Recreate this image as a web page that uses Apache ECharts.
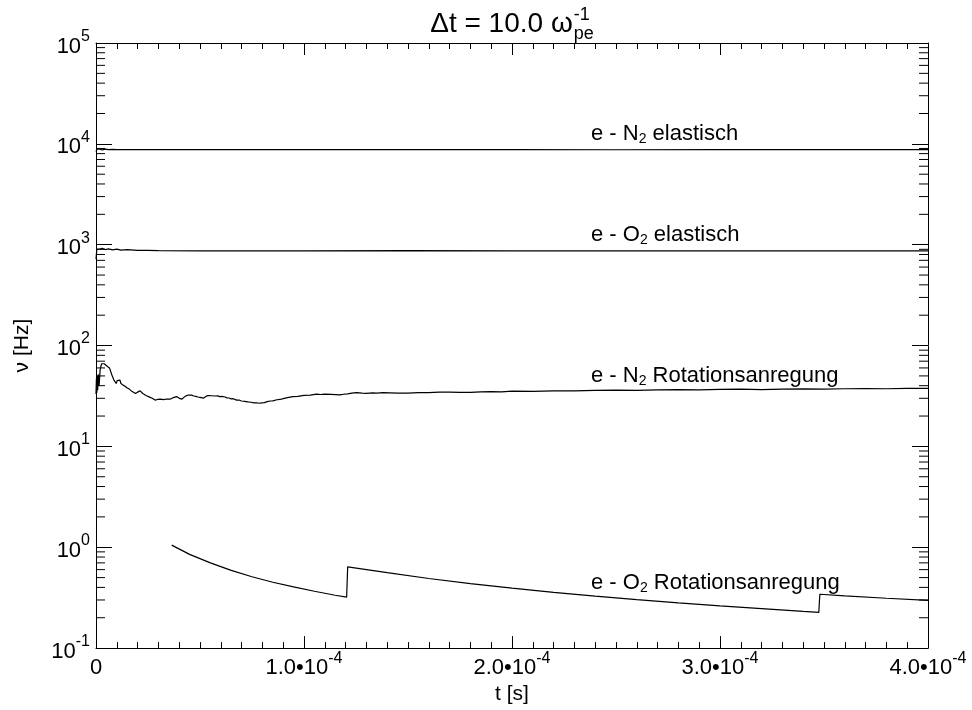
<!DOCTYPE html>
<html><head><meta charset="utf-8">
<script src="https://cdn.jsdelivr.net/npm/echarts@6/dist/echarts.min.js"></script>
<style>html,body{margin:0;padding:0;background:#fff}#c{width:972px;height:710px}</style>
</head><body><div id="c"></div>
<script>
const FONT = '"Liberation Sans", Arial, Helvetica, sans-serif';

// x in units of 1e-4 s
const xTickValues = [0, 1, 2, 3, 4];
const xTickExponent = '-4';
const yDecades = [-1, 0, 1, 2, 3, 4, 5];
const yMinorMultipliers = [2, 3, 4, 5, 6, 7, 8, 9];

const seriesNames = ['e - N2 elastisch', 'e - O2 elastisch', 'e - N2 Rotationsanregung', 'e - O2 Rotationsanregung'];

const tN2el = [0, 0.005, 0.012, 0.02, 0.03, 0.045, 0.06, 0.08, 0.1, 0.15, 0.2, 0.3, 0.5, 1.0, 1.5, 2.0, 2.5, 3.0, 3.5, 4.0];
const vN2el = [8400, 8900, 8600, 8850, 8700, 8850, 8750, 8800, 8760, 8790, 8750, 8770, 8750, 8760, 8750, 8750, 8740, 8750, 8750, 8750];

const tO2el = [0, 0.004, 0.01, 0.02, 0.03, 0.045, 0.06, 0.08, 0.1, 0.12, 0.15, 0.2, 0.25, 0.3, 0.5, 1.0, 1.5, 2.0, 2.5, 3.0, 3.5, 4.0];
const vO2el = [720, 900, 930, 910, 920, 895, 910, 890, 905, 885, 895, 878, 880, 872, 868, 870, 872, 870, 871, 870, 870, 870];

const tN2rot = [0, 0.002, 0.004, 0.006, 0.008, 0.011, 0.015, 0.02, 0.027, 0.034, 0.04, 0.047, 0.055, 0.065, 0.075, 0.085,
  0.097, 0.102, 0.106, 0.11, 0.115, 0.12, 0.125, 0.13, 0.135, 0.14, 0.145, 0.15, 0.155, 0.16, 0.165, 0.17, 0.175, 0.18, 0.185, 0.19,
  0.196, 0.2, 0.205, 0.212, 0.218, 0.225, 0.232, 0.24, 0.248, 0.255, 0.262, 0.27, 0.277, 0.284, 0.29, 0.296, 0.302, 0.31, 0.318,
  0.325, 0.333, 0.34, 0.348, 0.356, 0.364, 0.372, 0.38, 0.388, 0.395, 0.402, 0.412, 0.42, 0.43, 0.437, 0.444, 0.452, 0.46, 0.47,
  0.48, 0.49, 0.5, 0.508, 0.516, 0.523, 0.53, 0.54, 0.548, 0.556, 0.565, 0.575, 0.585, 0.595, 0.605, 0.611, 0.62, 0.63, 0.64, 0.65,
  0.66, 0.676, 0.69, 0.7, 0.715, 0.73, 0.745, 0.76, 0.772, 0.785, 0.797, 0.81, 0.823, 0.837, 0.85, 0.87, 0.885, 0.9, 0.92, 0.947,
  0.97, 1.0, 1.03, 1.061, 1.08, 1.1, 1.13, 1.173, 1.19, 1.21, 1.23, 1.253, 1.28, 1.3, 1.33, 1.35, 1.38, 1.413, 1.45, 1.5, 1.55,
  1.6, 1.65, 1.7, 1.75, 1.8, 1.85, 1.9, 1.95, 2.0, 2.1, 2.2, 2.3, 2.4, 2.5, 2.6, 2.7, 2.8, 2.9, 3.0, 3.1, 3.2, 3.3, 3.4, 3.5,
  3.6, 3.7, 3.8, 3.9, 4.0];
const vN2rot = [33, 47, 34, 50, 36, 52, 40, 58, 66, 69, 66, 67, 62, 60, 52, 46,
  42, 45, 47, 44, 45.5, 42, 43, 40.5, 41.5, 39.5, 40, 38, 38.8, 37, 37.5, 35.5, 36, 34.5, 34.8, 33.5,
  32.3, 34.5, 36, 35.5, 34, 33.5, 32.2, 32, 30.8, 31, 29.8, 30, 29.2, 28.8, 29.6, 29.2, 30, 29.4, 29.8,
  29.1, 29.9, 29.5, 30, 29.4, 30.2, 30.5, 31.4, 31.2, 30.4, 29.9, 29.4, 30.6, 31.5, 31.8, 32.3, 31.9, 32.2, 31.6,
  31.3, 30.9, 30.6, 30.8, 30.1, 30.9, 31.5, 31.9, 32.3, 31.8, 32, 31.6, 31.7, 31.2, 31.3, 30.7, 30.9, 30.3, 30.2, 29.6,
  29.7, 28.8, 28.7, 28.2, 28, 27.6, 27.4, 27, 27.1, 26.8, 27, 27.2, 27.8, 28.2, 28.3, 29, 29.2, 29.8, 30.4, 31.2,
  31.3, 32, 32.3, 33, 32.7, 33, 32.8, 32.4, 32.9, 33.2, 33.8, 34.1, 33.7, 33.6, 33.9, 33.8, 34.1, 34, 33.7, 33.8, 34.1,
  34.2, 34.5, 34.6, 34.3, 34.4, 34.8, 35, 34.8, 35.3, 35.2, 35.6, 35.5, 35.9, 36.2, 36, 36.4, 36.6, 36.3, 36.7, 36.9, 36.6, 37, 37.2, 37,
  37.3, 37.5, 37.3, 37.6, 37.7];

const tO2rot = [0.364, 0.45, 0.55, 0.65, 0.75, 0.85, 0.95, 1.05, 1.15, 1.205, 1.21, 1.4, 1.6, 1.8, 2.0, 2.2, 2.4, 2.6, 2.8, 3.0, 3.2, 3.4, 3.475, 3.48, 3.6, 3.8, 4.0];
const vO2rot = [1.05, 0.85, 0.70, 0.59, 0.51, 0.45, 0.405, 0.366, 0.334, 0.32, 0.64, 0.56, 0.49, 0.436, 0.393, 0.357, 0.327, 0.302, 0.281, 0.262, 0.246, 0.231, 0.226, 0.342, 0.330, 0.312, 0.297];

function pairs(t, v) { return t.map((x, i) => [x, v[i]]); }

const yMinorValues = [];
yDecades.slice(0, -1).forEach(d => yMinorMultipliers.forEach(m => yMinorValues.push([0, m * Math.pow(10, d)])));

const chart = echarts.init(document.getElementById('c'), null, { renderer: 'canvas' });

const richSup = {
  b: { fontSize: 22, fontFamily: FONT, color: '#000', padding: [7, 0, 0, 0] },
  s: { fontSize: 16, fontFamily: FONT, color: '#000', verticalAlign: 'top' }
};
const richSub = {
  b: { fontSize: 22, fontFamily: FONT, color: '#000', lineHeight: 22, padding: [0, 0, 3, 0] },
  s: { fontSize: 14, fontFamily: FONT, color: '#000', verticalAlign: 'bottom' }
};

function subText(name) {
  const m = name.match(/^(.*?[NO])2(.*)$/);
  return '{b|' + m[1] + '}{s|2}{b|' + m[2] + '}';
}

const labelY = [123, 223.5, 365, 571.5];

// title measurements
const TF = 28, TS = 18;
const ctx = document.createElement('canvas').getContext('2d');
ctx.font = TF + 'px ' + FONT;
const wMain = ctx.measureText('\u0394t = 10.0 \u03c9').width;
ctx.font = TS + 'px ' + FONT;
const wSS = Math.max(ctx.measureText('-1').width, ctx.measureText('pe').width);
const tx0 = 512 - (wMain + 1 + wSS) / 2;

const xAxisCommon = {
  type: 'value', min: 0, max: 4, interval: 1,
  axisLine: { show: true, onZero: false, lineStyle: { color: '#000', width: 1 } },
  axisTick: { show: true, inside: true, length: 12, lineStyle: { color: '#000', width: 1 } },
  minorTick: { show: true, splitNumber: 10, length: 6, lineStyle: { color: '#000', width: 1 } },
  splitLine: { show: false }, minorSplitLine: { show: false }
};
const yAxisCommon = {
  type: 'log', logBase: 10, min: 0.1, max: 100000, splitNumber: 6,
  axisLine: { show: true, onZero: false, lineStyle: { color: '#000', width: 1 } },
  axisTick: { show: true, inside: true, length: 16, lineStyle: { color: '#000', width: 1 } },
  splitLine: { show: false }
};

const option = {
  animation: false,
  backgroundColor: '#fff',
  grid: { left: 96, right: 44, top: 43, bottom: 59, containLabel: false },
  xAxis: [
    Object.assign({}, xAxisCommon, {
      position: 'bottom',
      name: 't [s]', nameLocation: 'middle', nameGap: 35,
      nameTextStyle: { fontSize: 21, fontFamily: FONT, color: '#000' },
      axisLabel: {
        show: true, margin: 2, color: '#000', rich: richSup, showMinLabel: true, showMaxLabel: true,
        formatter: v => v === 0 ? '{b|0}' : '{b|' + v.toFixed(1) + '\u202210}{s|' + xTickExponent + '}'
      }
    }),
    Object.assign({}, xAxisCommon, { position: 'top', axisLabel: { show: false } })
  ],
  yAxis: [
    Object.assign({}, yAxisCommon, {
      position: 'left',
      name: '\u03bd [Hz]', nameLocation: 'middle', nameGap: 63, nameRotate: 90,
      nameTextStyle: { fontSize: 21, fontFamily: FONT, color: '#000' },
      axisLabel: {
        show: true, margin: 6, color: '#000', rich: richSup, showMinLabel: true, showMaxLabel: true,
        formatter: v => '{b|10}{s|' + Math.round(Math.log10(v)) + '}'
      }
    }),
    Object.assign({}, yAxisCommon, { position: 'right', axisLabel: { show: false } })
  ],
  series: [
    { type: 'line', name: seriesNames[0], data: pairs(tN2el, vN2el), showSymbol: false, symbol: 'none', lineStyle: { color: '#000', width: 1.2 }, z: 3 },
    { type: 'line', name: seriesNames[1], data: pairs(tO2el, vO2el), showSymbol: false, symbol: 'none', lineStyle: { color: '#000', width: 1.2 }, z: 3 },
    { type: 'line', name: seriesNames[2], data: pairs(tN2rot, vN2rot), showSymbol: false, symbol: 'none', lineStyle: { color: '#000', width: 1.2 }, z: 3 },
    { type: 'line', name: seriesNames[3], data: pairs(tO2rot, vO2rot), showSymbol: false, symbol: 'none', lineStyle: { color: '#000', width: 1.2 }, z: 3 },
    {
      type: 'custom', name: 'minorTicks', silent: true, clip: false, z: 5,
      data: yMinorValues, encode: { x: 0, y: 1 },
      renderItem: (params, api) => {
        const v = api.value(1);
        const pL = api.coord([0, v]);
        const pR = api.coord([4, v]);
        return {
          type: 'group', children: [
            { type: 'line', shape: { x1: pL[0], y1: pL[1], x2: pL[0] + 9, y2: pL[1] }, style: { stroke: '#000', lineWidth: 1 } },
            { type: 'line', shape: { x1: pR[0] - 9, y1: pR[1], x2: pR[0], y2: pR[1] }, style: { stroke: '#000', lineWidth: 1 } }
          ]
        };
      }
    }
  ],
  graphic: [
    { type: 'text', left: tx0, top: 10, style: { text: '\u0394t = 10.0 \u03c9', font: TF + 'px ' + FONT, fill: '#000' } },
    { type: 'text', left: tx0 + wMain + 1, top: 6, style: { text: '-1', font: TS + 'px ' + FONT, fill: '#000' } },
    { type: 'text', left: tx0 + wMain + 1, top: 25, style: { text: 'pe', font: TS + 'px ' + FONT, fill: '#000' } }
  ].concat(seriesNames.map((n, i) => ({
    type: 'text', left: 591, top: labelY[i],
    style: { text: subText(n), rich: richSub, fill: '#000' }
  })))
};

chart.setOption(option);
</script></body></html>
